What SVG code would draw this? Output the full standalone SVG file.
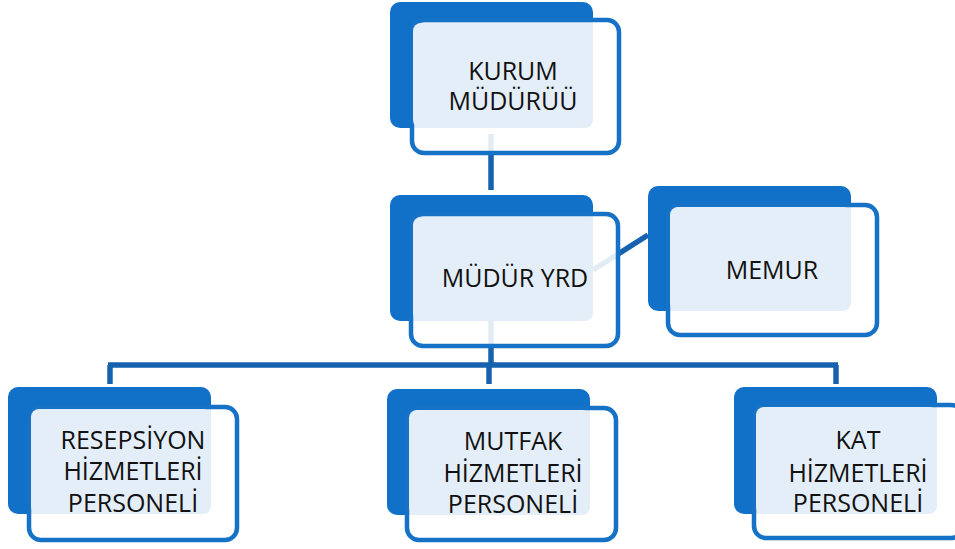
<svg xmlns="http://www.w3.org/2000/svg" width="955" height="549" viewBox="0 0 955 549">
<style>
.back{fill:#1170C7;}
.front{fill:#FFFFFF;fill-opacity:0.88;stroke:#1672C6;stroke-width:4.5;}
.mid{fill:#E4EEF8;}
.conn{stroke:#1762AE;stroke-width:5.5;fill:none;}
.lbl{font-family:"Open Sans","Noto Sans","DejaVu Sans",sans-serif;font-size:25px;fill:#111;text-anchor:middle;}
</style>
<rect width="955" height="549" fill="#FFFFFF"/>
<g id="connectors">
<line class="conn" x1="491" y1="134" x2="491" y2="190"/>
<line class="conn" x1="593" y1="270" x2="648" y2="235"/>
<line class="conn" x1="491" y1="321" x2="491" y2="365"/>
<line class="conn" x1="108" y1="365" x2="838" y2="365"/>
<line class="conn" x1="110" y1="365" x2="110" y2="384"/>
<line class="conn" x1="489" y1="365" x2="489" y2="384"/>
<line class="conn" x1="836" y1="365" x2="836" y2="384"/>
</g>
<g id="node-kurum">
<rect class="back" x="390" y="2" width="203" height="126" rx="10"/>
<rect class="front" x="412" y="20" width="207" height="133" rx="12"/>
<rect class="mid" x="413" y="23" width="180" height="105" rx="8"/>
<text class="lbl"><tspan x="513" y="80">KURUM</tspan><tspan x="513" y="110">MÜDÜRÜÜ</tspan></text>
</g>
<g id="node-mudur-yrd">
<rect class="back" x="390" y="195" width="203" height="126" rx="10"/>
<rect class="front" x="411" y="214" width="207" height="132" rx="12"/>
<rect class="mid" x="413" y="217" width="180" height="104" rx="8"/>
<text class="lbl" x="515" y="287">MÜDÜR YRD</text>
</g>
<g id="node-memur">
<rect class="back" x="648" y="186" width="203" height="125" rx="10"/>
<rect class="front" x="668" y="205" width="209" height="130" rx="12"/>
<rect class="mid" x="670" y="207" width="181" height="104" rx="8"/>
<text class="lbl" x="772" y="279">MEMUR</text>
</g>
<g id="node-resepsiyon">
<rect class="back" x="8" y="387" width="203" height="127" rx="10"/>
<rect class="front" x="29" y="407" width="208" height="133" rx="12"/>
<rect class="mid" x="31" y="409" width="180" height="105" rx="8"/>
<text class="lbl"><tspan x="133" y="449">RESEPSİYON</tspan><tspan x="133" y="480">HİZMETLERİ</tspan><tspan x="133" y="512">PERSONELİ</tspan></text>
</g>
<g id="node-mutfak">
<rect class="back" x="387" y="389" width="203" height="126" rx="10"/>
<rect class="front" x="407" y="408" width="209" height="132" rx="12"/>
<rect class="mid" x="409" y="410" width="181" height="105" rx="8"/>
<text class="lbl"><tspan x="513" y="450">MUTFAK</tspan><tspan x="513" y="482">HİZMETLERİ</tspan><tspan x="513" y="513">PERSONELİ</tspan></text>
</g>
<g id="node-kat">
<rect class="back" x="734" y="387" width="203" height="127" rx="10"/>
<rect class="front" x="754" y="405" width="209" height="133" rx="12"/>
<rect class="mid" x="756" y="407" width="181" height="107" rx="8"/>
<text class="lbl"><tspan x="858" y="449">KAT</tspan><tspan x="858" y="482">HİZMETLERİ</tspan><tspan x="858" y="512">PERSONELİ</tspan></text>
</g>
</svg>
